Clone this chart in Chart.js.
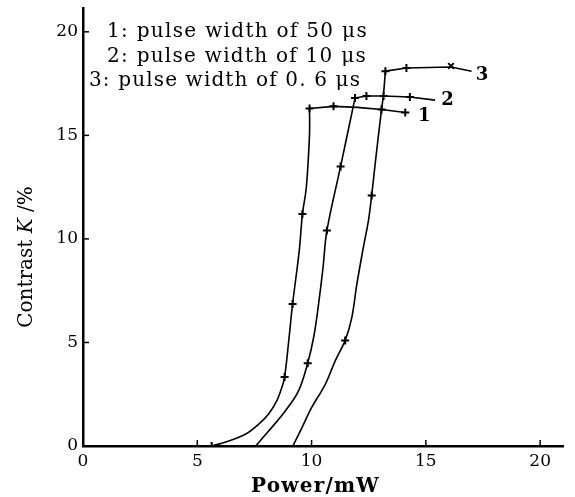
<!DOCTYPE html>
<html>
<head>
<meta charset="utf-8">
<script src="https://cdn.jsdelivr.net/npm/chart.js@4/dist/chart.umd.min.js"></script>
<style>
  html, body { margin: 0; padding: 0; background: #fff; }
</style>
</head>
<body>
<canvas id="contrastChart" width="575" height="497"></canvas>
<script>
// traced curves, Power (mW) vs Contrast K (%) - rising part and flat top
const curve1RiseX = [5.63, 6.38, 7.12, 7.69, 8.12, 8.47, 8.69, 8.82, 9.0, 9.17, 9.46, 9.6, 9.77, 9.91, 9.91];
const curve1RiseY = [0, 0.24, 0.58, 1.06, 1.55, 2.17, 2.8, 3.33, 5.07, 6.86, 9.42, 11.2, 12.48, 15.06, 16.3];
const curve1TopX = [9.91, 10.96, 12.0, 13.06, 14.1];
const curve1TopY = [16.3, 16.4, 16.35, 16.25, 16.1];

const curve2RiseX = [7.55, 8.12, 8.85, 9.43, 9.83, 10.1, 10.3, 10.5, 10.67, 11.27, 11.9];
const curve2RiseY = [0, 0.72, 1.69, 2.66, 4.0, 5.3, 6.8, 8.6, 10.4, 13.5, 16.8];
const curve2TopX = [11.9, 12.4, 13.15, 14.3, 15.4];
const curve2TopY = [16.8, 16.9, 16.9, 16.85, 16.7];

const curve3RiseX = [9.18, 9.58, 10.0, 10.6, 11.03, 11.47, 11.76, 11.98, 12.25, 12.49, 12.63, 12.78, 13.06, 13.14, 13.23];
const curve3RiseY = [0, 0.89, 1.85, 2.98, 4.1, 5.1, 6.2, 7.8, 9.5, 10.9, 12.1, 13.6, 16.25, 16.9, 18.1];
const curve3TopX = [13.23, 14.15, 16.1, 17.0];
const curve3TopY = [18.1, 18.25, 18.3, 18.1];

// measured points (markers)
const marks1X = [5.63, 8.82, 9.17, 9.6, 9.91, 10.96, 13.06, 14.1];
const marks1Y = [0, 3.33, 6.86, 11.2, 16.3, 16.4, 16.25, 16.1];
const marks2X = [9.83, 10.67, 11.27, 11.9, 12.4, 13.15, 14.3];
const marks2Y = [4.0, 10.4, 13.5, 16.8, 16.9, 16.9, 16.85];
const marks3X = [11.47, 12.63, 13.23, 14.15];
const marks3Y = [5.1, 12.1, 18.1, 18.25];
const cross3X = [16.1];
const cross3Y = [18.35];

const curveLabels = ['1', '2', '3'];
const labelX = [14.93, 15.95, 17.46];
const labelY = [15.9, 16.7, 17.9];

const legendLines = ['1: pulse width of 50 \u03bcs', '2: pulse width of 10 \u03bcs', '3: pulse width of 0. 6 \u03bcs'];
const tickValues = [0, 5, 10, 15, 20];

const toPoints = (xs, ys) => xs.map((x, i) => ({ x: x, y: ys[i] }));

const serif = '"DejaVu Serif", "Liberation Serif", serif';
const ink = '#000';

const lineSet = (xs, ys, tension) => ({
    data: toPoints(xs, ys),
    showLine: true,
    borderColor: ink,
    borderWidth: 1.6,
    pointRadius: 0,
    tension: tension,
});

const markSet = (xs, ys, style) => ({
    data: toPoints(xs, ys),
    showLine: false,
    pointStyle: style,
    pointRadius: 4,
    borderColor: ink,
    backgroundColor: ink,
    pointBorderWidth: 2,
});

// stretch a text to the width it has in the figure
const fitText = (ctx, t, x, y, width) => {
    ctx.letterSpacing = '0px';
    const w = ctx.measureText(t).width;
    const sp = Math.max(0, (width - w) / t.length);
    ctx.letterSpacing = sp.toFixed(2) + 'px';
    ctx.fillText(t, x, y);
    ctx.letterSpacing = '0px';
};

// inward ticks, legend text, curve labels and axis titles
const extras = {
    id: 'extras',
    afterDraw(chart) {
        const { ctx, chartArea: a, scales: { x, y } } = chart;
        ctx.save();
        ctx.strokeStyle = ink;
        ctx.lineWidth = 1.5;
        tickValues.forEach(v => {
            if (v === 0) return;
            const px = x.getPixelForValue(v);
            ctx.beginPath(); ctx.moveTo(px, a.bottom); ctx.lineTo(px, a.bottom - 6); ctx.stroke();
            const py = y.getPixelForValue(v);
            ctx.beginPath(); ctx.moveTo(a.left, py); ctx.lineTo(a.left + 6, py); ctx.stroke();
        });

        ctx.fillStyle = ink;
        ctx.textBaseline = 'middle';

        ctx.font = '20px ' + serif;
        const legendPos = [[107, 32, 261], [107, 57, 260], [89, 81, 272]];
        legendLines.forEach((t, i) => fitText(ctx, t, legendPos[i][0], legendPos[i][1], legendPos[i][2]));

        ctx.font = 'bold 18px ' + serif;
        ctx.textAlign = 'center';
        curveLabels.forEach((t, i) => {
            ctx.fillText(t, x.getPixelForValue(labelX[i]), y.getPixelForValue(labelY[i]));
        });

        // x axis title
        ctx.font = 'bold 20px ' + serif;
        ctx.textAlign = 'left';
        fitText(ctx, 'Power/mW', 251, 487, 129);

        // y axis title with italic K
        ctx.translate(27, 257);
        ctx.rotate(-Math.PI / 2);
        const parts = [['Contrast ', '20px '], ['K', 'italic 20px '], [' /%', '20px ']];
        let total = 0;
        parts.forEach(p => { ctx.font = p[1] + serif; total += ctx.measureText(p[0]).width; });
        let cx = -total / 2;
        parts.forEach(p => {
            ctx.font = p[1] + serif;
            ctx.fillText(p[0], cx, 0);
            cx += ctx.measureText(p[0]).width;
        });
        ctx.restore();
    }
};

const fixedTicks = scale => {
    scale.ticks = tickValues.map(v => ({ value: v }));
};

new Chart(document.getElementById('contrastChart').getContext('2d'), {
    type: 'scatter',
    data: {
        datasets: [
            lineSet(curve1RiseX, curve1RiseY, 0.35),
            lineSet(curve1TopX, curve1TopY, 0),
            lineSet(curve2RiseX, curve2RiseY, 0.35),
            lineSet(curve2TopX, curve2TopY, 0),
            lineSet(curve3RiseX, curve3RiseY, 0.35),
            lineSet(curve3TopX, curve3TopY, 0),
            markSet(marks1X, marks1Y, 'cross'),
            markSet(marks2X, marks2Y, 'cross'),
            markSet(marks3X, marks3Y, 'cross'),
            markSet(cross3X, cross3Y, 'crossRot'),
        ],
    },
    options: {
        responsive: false,
        animation: false,
        layout: { padding: { top: 8, right: 12, left: 0, bottom: 0 } },
        plugins: {
            legend: { display: false },
            tooltip: { enabled: false },
        },
        scales: {
            x: {
                type: 'linear',
                min: 0,
                max: 21,
                afterBuildTicks: fixedTicks,
                afterFit: s => { s.height = 51; s.paddingLeft = 0; s.paddingRight = 0; },
                grid: { display: false, drawTicks: false },
                border: { display: true, color: ink, width: 2.5 },
                ticks: { padding: 5, color: ink, font: { family: serif, size: 17 } },
            },
            y: {
                type: 'linear',
                min: 0,
                max: 21.15,
                afterBuildTicks: fixedTicks,
                afterFit: s => { s.width = 83; s.paddingTop = 0; s.paddingBottom = 0; },
                grid: { display: false, drawTicks: false },
                border: { display: true, color: ink, width: 2.5 },
                ticks: { padding: 5, color: ink, font: { family: serif, size: 17 } },
            },
        },
    },
    plugins: [extras],
});
</script>
</body>
</html>
